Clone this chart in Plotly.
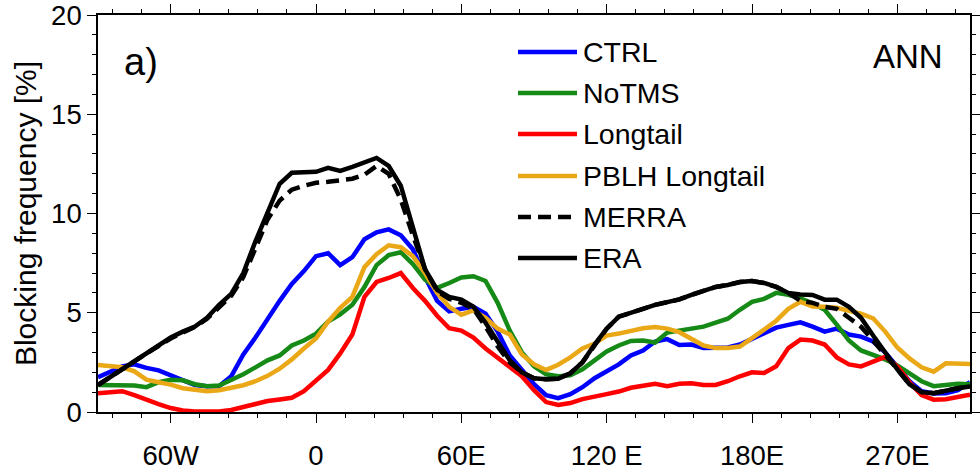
import plotly.graph_objects as go

# Longitude grid (degrees east; negative = west)
lon = list(range(-90, 271, 5))

ctrl = [1.75, 2.0, 2.3, 2.4, 2.22, 2.1, 1.85, 1.55, 1.36, 1.3, 1.3, 1.8, 2.9, 3.75, 4.7, 5.6, 6.45, 7.1,
        7.85, 8.0, 7.4, 7.8, 8.7, 9.05, 9.2, 8.9, 8.2, 6.8, 5.6, 5.07, 5.2, 5.3, 4.95, 4.05, 2.85, 2.1,
        1.4, 0.85, 0.7, 0.9, 1.25, 1.7, 2.05, 2.4, 2.85, 3.1, 3.55, 3.67, 3.38, 3.4, 3.22, 3.22, 3.25, 3.4,
        3.7, 3.95, 4.25, 4.39, 4.52, 4.3, 4.05, 4.2, 3.9, 3.8, 3.55, 3.0, 2.25, 1.55, 1.05, 0.93, 0.94, 1.1, 1.5]

notms = [1.36, 1.36, 1.36, 1.33, 1.25, 1.5, 1.62, 1.6, 1.4, 1.3, 1.33, 1.6, 1.9, 2.25, 2.6, 2.85, 3.35, 3.6,
         3.95, 4.56, 4.92, 5.4, 6.3, 7.4, 7.9, 8.05, 7.45, 6.67, 6.25, 6.5, 6.78, 6.84, 6.6, 5.5, 4.1, 3.0,
         2.3, 1.9, 1.8, 1.85, 2.15, 2.6, 3.05, 3.35, 3.58, 3.6, 3.5, 4.0, 4.1, 4.22, 4.3, 4.5, 4.7, 5.15,
         5.55, 5.7, 6.0, 5.9, 5.72, 5.48, 5.15, 4.4, 3.6, 3.1, 2.88, 2.65, 2.35, 1.95, 1.55, 1.3, 1.35, 1.42, 1.4]

longtail = [0.94, 0.97, 1.05, 0.85, 0.6, 0.4, 0.2, 0.08, 0.03, 0.02, 0.02, 0.1, 0.25, 0.37, 0.55, 0.63, 0.72, 1.05,
            1.55, 2.12, 2.95, 3.9, 5.8, 6.55, 6.75, 7.0, 6.25, 5.6, 4.85, 4.22, 4.1, 3.75, 3.2, 2.75, 2.3, 1.8,
            1.1, 0.5, 0.35, 0.45, 0.65, 0.8, 0.9, 1.03, 1.22, 1.32, 1.42, 1.3, 1.42, 1.45, 1.36, 1.36, 1.55, 1.8,
            2.0, 1.97, 2.3, 3.22, 3.65, 3.6, 3.4, 2.75, 2.4, 2.3, 2.55, 2.78, 2.3, 1.5, 0.85, 0.62, 0.64, 0.75, 0.87]

pblh_longtail = [2.37, 2.3, 2.25, 2.05, 1.63, 1.5, 1.38, 1.2, 1.1, 1.05, 1.1, 1.23, 1.35, 1.55, 1.82, 2.18, 2.65, 3.2,
                 3.7, 4.55, 5.25, 5.8, 7.3, 7.95, 8.4, 8.3, 7.85, 7.0, 6.0, 5.3, 4.9, 5.12, 4.75, 4.2, 3.9, 2.9,
                 2.4, 2.12, 2.38, 2.75, 3.2, 3.45, 3.85, 3.95, 4.08, 4.22, 4.28, 4.2, 4.02, 3.7, 3.35, 3.22, 3.22, 3.3,
                 3.7, 4.15, 4.6, 5.2, 5.55, 5.32, 5.3, 5.25, 5.1, 4.95, 4.72, 4.05, 3.25, 2.7, 2.25, 2.03, 2.45, 2.42, 2.42]

merra = [1.36, 1.74, 2.15, 2.55, 2.95, 3.35, 3.7, 4.0, 4.28, 4.7, 5.3, 5.85, 6.8, 8.3, 9.7, 10.65, 11.2, 11.4,
         11.55, 11.6, 11.7, 11.75, 11.95, 12.4, 12.0, 10.7, 8.9, 7.2, 6.1, 5.7, 5.5, 5.2, 4.3, 3.3, 2.5, 2.0,
         1.7, 1.65, 1.68, 1.95, 2.5, 3.4, 4.2, 4.8, 4.98, 5.2, 5.4, 5.53, 5.67, 5.9, 6.1, 6.3, 6.4, 6.55,
         6.6, 6.5, 6.3, 6.0, 5.6, 5.5, 5.3, 5.2, 4.75, 4.3, 3.6, 2.9, 2.15, 1.4, 1.0, 0.95, 1.08, 1.2, 1.28]

era = [1.36, 1.76, 2.2, 2.55, 3.0, 3.4, 3.75, 4.05, 4.31, 4.75, 5.4, 5.95, 7.0, 8.6, 10.0, 11.5, 12.05, 12.05,
       12.1, 12.3, 12.15, 12.35, 12.55, 12.8, 12.4, 11.4, 9.3, 7.2, 6.15, 5.8, 5.66, 5.3, 4.5, 3.5, 2.6, 2.0,
       1.7, 1.65, 1.68, 1.95, 2.5, 3.4, 4.2, 4.8, 4.98, 5.2, 5.4, 5.53, 5.67, 5.9, 6.1, 6.3, 6.4, 6.55,
       6.6, 6.5, 6.3, 6.0, 5.92, 5.9, 5.66, 5.66, 5.3, 4.75, 3.85, 2.96, 2.15, 1.4, 1.0, 0.95, 1.08, 1.2, 1.28]

tick_vals = [-60, 0, 60, 120, 180, 240]
tick_text = ["60W", "0", "60E", "120 E", "180E", "270E"]

series = [
    ("CTRL", ctrl, "#0000ff", "solid"),
    ("NoTMS", notms, "#168a16", "solid"),
    ("Longtail", longtail, "#ff0000", "solid"),
    ("PBLH Longtail", pblh_longtail, "#eaa817", "solid"),
    ("MERRA", merra, "#000000", "13px,7px"),
    ("ERA", era, "#000000", "solid"),
]

FONT = "Liberation Sans, Arial, Helvetica, sans-serif"
LW = 4.5

fig = go.Figure()
for name, vals, color, dash in series:
    fig.add_trace(go.Scatter(x=lon, y=vals, mode="lines", name=name,
                             line=dict(color=color, width=LW, dash=dash),
                             showlegend=False))

# Hand-placed legend: short line sample plus label for each series
leg_y_px = [52, 93, 134, 176, 217, 258]
plot_top, plot_bot, plot_left, plot_w = 15, 412, 98, 872
for (name, vals, color, dash), ypx in zip(series, leg_y_px):
    yp = (plot_bot - ypx) / (plot_bot - plot_top)
    fig.add_shape(type="line", xref="paper", yref="paper",
                  x0=(518 - plot_left) / plot_w, x1=(577 - plot_left) / plot_w, y0=yp, y1=yp,
                  line=dict(color=color, width=LW, dash=dash))
    fig.add_annotation(text=name, xref="paper", yref="paper",
                       x=(581 - plot_left) / plot_w, y=yp, xanchor="left", yanchor="middle",
                       showarrow=False, font=dict(size=28.5, color="black", family=FONT))

fig.add_annotation(text="a)", xref="paper", yref="paper", x=(122 - plot_left) / plot_w,
                   y=(plot_bot - 62) / (plot_bot - plot_top), xanchor="left", yanchor="middle",
                   showarrow=False, font=dict(size=38, color="black", family=FONT))
fig.add_annotation(text="ANN", xref="paper", yref="paper", x=(945 - plot_left) / plot_w,
                   y=(plot_bot - 56) / (plot_bot - plot_top), xanchor="right", yanchor="middle",
                   showarrow=False, font=dict(size=33, color="black", family=FONT))

axis_common = dict(showline=True, linecolor="black", linewidth=1.6, mirror="ticks",
                   ticks="outside", tickcolor="black", tickwidth=1.4, showgrid=False,
                   zeroline=False, automargin=False, ticklabeloverflow="allow",
                   tickfont=dict(size=27.5, color="black", family=FONT))

fig.update_xaxes(range=[-90, 270], tickvals=tick_vals, ticktext=tick_text, ticklen=9,
                 ticklabelstandoff=9,
                 minor=dict(dtick=12, tick0=0, ticks="outside", ticklen=4, tickcolor="black",
                            tickwidth=1.2, showgrid=False),
                 **axis_common)
fig.update_yaxes(range=[0, 20], dtick=5, ticklen=9, ticklabelstandoff=0,
                 minor=dict(dtick=1, ticks="outside", ticklen=4, tickcolor="black",
                            tickwidth=1.2, showgrid=False),
                 title=dict(text="Blocking frequency [%]", standoff=6,
                            font=dict(size=30, color="black", family=FONT)),
                 **axis_common)

fig.update_layout(width=980, height=476, margin=dict(l=98, r=10, t=15, b=64),
                  paper_bgcolor="white", plot_bgcolor="white", showlegend=False,
                  font=dict(family=FONT, color="black"))

fig.write_html("out.html")
